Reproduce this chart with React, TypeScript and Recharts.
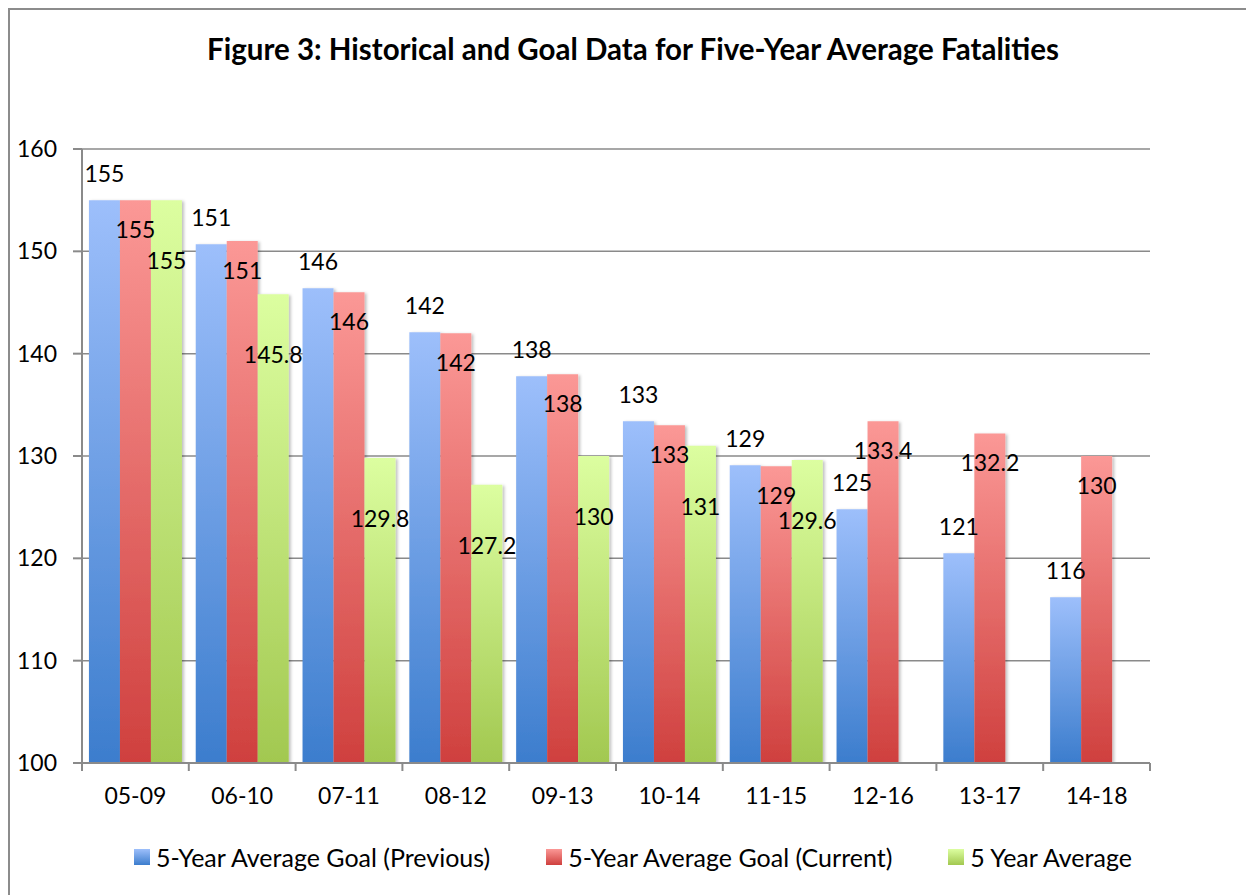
import React from 'react';
import { BarChart, Bar, XAxis, YAxis, CartesianGrid, LabelList } from 'recharts';

const periods = ['05-09', '06-10', '07-11', '08-12', '09-13', '10-14', '11-15', '12-16', '13-17', '14-18'];
const goalPrevious = [155, 150.7, 146.4, 142.1, 137.8, 133.4, 129.1, 124.8, 120.5, 116.2];
const goalCurrent = [155, 151, 146, 142, 138, 133, 129, 133.4, 132.2, 130];
const fiveYearAvg = [155, 145.8, 129.8, 127.2, 130, 131, 129.6, null, null, null];
const yTicks = [100, 110, 120, 130, 140, 150, 160];

const series = [
  { key: 'prev', name: '5-Year Average Goal (Previous)', top: '#9dbffb', bottom: '#3c7dcd' },
  { key: 'curr', name: '5-Year Average Goal (Current)', top: '#fb9896', bottom: '#cf403e' },
  { key: 'avg', name: '5 Year Average', top: '#dcfea0', bottom: '#a2c850' },
];

const data = periods.map((p, i) => ({
  period: p,
  prev: goalPrevious[i],
  curr: goalCurrent[i],
  avg: fiveYearAvg[i],
}));

const FONT = 'Lato, "Open Sans", sans-serif';
const AXIS = '#8a8a8a';
const TXT = 23;

// data label drawn relative to the bar top
const makeLabel = (dy: number, round: boolean) => (props: any) => {
  const { x, y, width, value } = props;
  if (value == null) return null;
  const txt = round ? String(Math.round(value)) : String(value);
  return (
    <text
      x={Number(x) + Number(width) / 2}
      y={Number(y) + dy}
      textAnchor="middle"
      dominantBaseline="central"
      fontSize={TXT}
      fontFamily={FONT}
      fill="#000"
    >
      {txt}
    </text>
  );
};

// category label plus tick marks on the band edges
const CategoryTick = (props: any) => {
  const { x, y, payload, index, width, visibleTicksCount } = props;
  const band = width / visibleTicksCount;
  const axisY = y - 25;
  return (
    <g>
      <line x1={x - band / 2} x2={x - band / 2} y1={axisY} y2={axisY + 8} stroke={AXIS} strokeWidth={2} />
      {index === visibleTicksCount - 1 && (
        <line x1={x + band / 2} x2={x + band / 2} y1={axisY} y2={axisY + 8} stroke={AXIS} strokeWidth={2} />
      )}
      <text x={x} y={y} dy="0.71em" textAnchor="middle" fontSize={TXT} fontFamily={FONT} fill="#000">
        {payload.value}
      </text>
    </g>
  );
};

export default function App() {
  return (
    <div
      style={{
        position: 'relative',
        width: 1246,
        height: 887,
        borderLeft: '2px solid #8c8c8c',
        borderTop: '2px solid #8c8c8c',
        background: '#fff',
        fontFamily: FONT,
      }}
    >
      <div
        style={{
          position: 'absolute',
          top: 21,
          left: 0,
          width: 1246,
          textAlign: 'center',
          fontWeight: 700,
          fontSize: 29.5,
          color: '#000',
        }}
      >
        Figure 3: Historical and Goal Data for Five-Year Average Fatalities
      </div>
      <BarChart
        width={1246}
        height={887}
        data={data}
        margin={{ top: 139, right: 106, left: 0, bottom: 74 }}
        barCategoryGap="6.5%"
        barGap={0}
      >
        <defs>
          {series.map((s) => (
            <linearGradient key={s.key} id={`grad-${s.key}`} x1="0" y1="0" x2="0" y2="1">
              <stop offset="0%" stopColor={s.top} />
              <stop offset="100%" stopColor={s.bottom} />
            </linearGradient>
          ))}
          <filter id="barShadow" x="-20%" y="-5%" width="140%" height="110%">
            <feDropShadow dx="2" dy="1" stdDeviation="1.5" floodColor="#000" floodOpacity="0.25" />
          </filter>
        </defs>
        <CartesianGrid vertical={false} stroke={AXIS} strokeWidth={1.5} />
        <XAxis
          dataKey="period"
          height={60}
          stroke={AXIS}
          strokeWidth={2}
          tickLine={false}
          tickSize={8}
          tickMargin={17}
          tick={<CategoryTick />}
          interval={0}
        />
        <YAxis
          domain={[100, 160]}
          ticks={yTicks}
          width={72}
          stroke={AXIS}
          strokeWidth={2}
          tickSize={9}
          tickMargin={16}
          tick={{ fontSize: TXT, fontFamily: FONT, fill: '#000' }}
          allowDataOverflow
        />
        <Bar dataKey="prev" name={series[0].name} fill="url(#grad-prev)" filter="url(#barShadow)" isAnimationActive={false}>
          <LabelList dataKey="prev" content={makeLabel(-27, true)} />
        </Bar>
        <Bar dataKey="curr" name={series[1].name} fill="url(#grad-curr)" filter="url(#barShadow)" isAnimationActive={false}>
          <LabelList dataKey="curr" content={makeLabel(29, false)} />
        </Bar>
        <Bar dataKey="avg" name={series[2].name} fill="url(#grad-avg)" filter="url(#barShadow)" isAnimationActive={false}>
          <LabelList dataKey="avg" content={makeLabel(60, false)} />
        </Bar>
      </BarChart>
      <div
        style={{
          position: 'absolute',
          top: 832,
          left: 0,
          width: 1246,
          display: 'flex',
          justifyContent: 'center',
          gap: 56,
          fontSize: 25,
          color: '#000',
        }}
      >
        {series.map((s) => (
          <div key={s.key} style={{ display: 'flex', alignItems: 'center' }}>
            <span
              style={{
                display: 'inline-block',
                width: 16,
                height: 16,
                marginRight: 6,
                background: `linear-gradient(${s.top}, ${s.bottom})`,
              }}
            />
            <span>{s.name}</span>
          </div>
        ))}
      </div>
    </div>
  );
}
